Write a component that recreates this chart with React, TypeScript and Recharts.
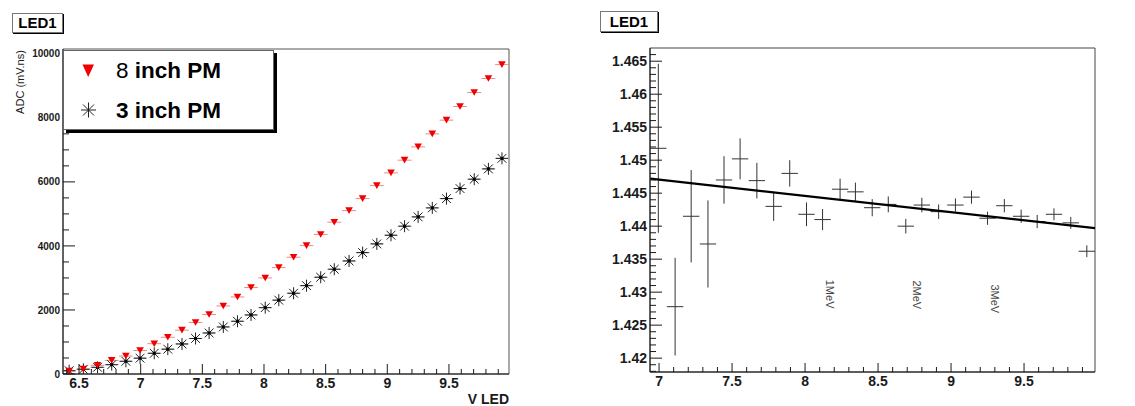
import React from "react";
import {
  ErrorBar,
  ReferenceArea,
  Scatter,
  ScatterChart,
  XAxis,
  YAxis,
} from "recharts";

// ---- left pad: ADC vs LED voltage ----
const vLed = [
  6.42, 6.535, 6.65, 6.765, 6.88, 6.995, 7.11, 7.22, 7.335, 7.445, 7.555,
  7.67, 7.785, 7.895, 8.01, 8.12, 8.24, 8.345, 8.46, 8.57, 8.69, 8.8, 8.915,
  9.03, 9.14, 9.25, 9.365, 9.48, 9.59, 9.705, 9.82, 9.93,
];
const adc8inch = [
  95, 155, 270, 425, 562, 734, 947, 1147, 1369, 1609, 1856, 2125, 2406, 2700,
  3000, 3322, 3647, 4009, 4359, 4741, 5103, 5478, 5884, 6281, 6678, 7094,
  7500, 7928, 8353, 8791, 9228, 9663,
];
const adc3inch = [
  103, 147, 209, 291, 397, 494, 647, 775, 938, 1109, 1281, 1469, 1647, 1844,
  2072, 2306, 2522, 2759, 3022, 3272, 3531, 3791, 4063, 4334, 4616, 4906,
  5188, 5478, 5791, 6084, 6406, 6734,
];
const vLedHalfBin = 0.056;
const adcTicks = [0, 2000, 4000, 6000, 8000, 10000];
const vLedTicks = [6.5, 7, 7.5, 8, 8.5, 9, 9.5];

// ---- right pad: ratio 8 inch / 3 inch ----
const ratioX = [
  6.995, 7.11, 7.22, 7.335, 7.445, 7.555, 7.67, 7.785, 7.895, 8.01, 8.12,
  8.24, 8.345, 8.46, 8.57, 8.69, 8.8, 8.915, 9.03, 9.14, 9.25, 9.365, 9.48,
  9.59, 9.705, 9.82, 9.93,
];
const ratioY = [
  1.4518, 1.4278, 1.4415, 1.4373, 1.447, 1.4502, 1.4469, 1.443, 1.448,
  1.4418, 1.441, 1.4456, 1.4452, 1.4428, 1.4433, 1.44, 1.4432, 1.4422,
  1.4432, 1.4444, 1.4412, 1.4431, 1.4415, 1.4407, 1.4418, 1.4405, 1.4362,
];
const ratioErr = [
  0.0128, 0.0074, 0.007, 0.0066, 0.0036, 0.0031, 0.0027, 0.0022, 0.002,
  0.0018, 0.0016, 0.0016, 0.0014, 0.0013, 0.0012, 0.0011, 0.0011, 0.0011,
  0.001, 0.001, 0.001, 0.001, 0.001, 0.001, 0.0009, 0.0009, 0.0009,
];
const fitX = [6.94, 9.986];
const fitY = [1.4472, 1.4397];
const meVLabels = ["1MeV", "2MeV", "3MeV"];
const meVX = [8.17, 8.765, 9.3];
const meVY = [1.4297, 1.4296, 1.429];
const ratioTicks = [1.42, 1.425, 1.43, 1.435, 1.44, 1.445, 1.45, 1.455, 1.46, 1.465];
const ratioXTicks = [7, 7.5, 8, 8.5, 9, 9.5];

const FONT = '"Liberation Sans", Arial, Helvetica, sans-serif';
const INK = "#1a1a1a";

const steps = (from: number, to: number, step: number) => {
  const out: number[] = [];
  for (let v = from; v <= to + step / 1000; v += step) out.push(Number(v.toFixed(4)));
  return out;
};

const fmt = (v: number) => String(Number(v.toFixed(3)));
const isMajor = (v: number, majors: number[]) => majors.some((m) => Math.abs(m - v) < 1e-6);

function yTick(majors: number[], majorLen: number, minorLen: number, fontSize: number) {
  return (props: any) => {
    const { x, y, payload } = props;
    const major = isMajor(payload.value, majors);
    return (
      <g>
        <line x1={x} x2={x + (major ? majorLen : minorLen)} y1={y} y2={y} stroke={INK} />
        {major && (
          <text x={x - 3} y={y} dy="0.36em" textAnchor="end" fontSize={fontSize} fontWeight="bold" fontFamily={FONT} fill={INK}>
            {fmt(payload.value)}
          </text>
        )}
      </g>
    );
  };
}

function xTick(majors: number[], majorLen: number, minorLen: number, fontSize: number) {
  return (props: any) => {
    const { x, y, payload } = props;
    const major = isMajor(payload.value, majors);
    return (
      <g>
        <line x1={x} x2={x} y1={y} y2={y - (major ? majorLen : minorLen)} stroke={INK} />
        {major && (
          <text x={x} y={y + 14} textAnchor="middle" fontSize={fontSize} fontWeight="bold" fontFamily={FONT} fill={INK}>
            {fmt(payload.value)}
          </text>
        )}
      </g>
    );
  };
}

const TriangleDown = (props: any) => {
  const { cx, cy } = props;
  if (cx == null || cy == null) return <g />;
  return <polygon points={`${cx - 3.8},${cy - 3.3} ${cx + 3.8},${cy - 3.3} ${cx},${cy + 3.3}`} fill="#f00000" />;
};

const Star = (props: any) => {
  const { cx, cy } = props;
  if (cx == null || cy == null) return <g />;
  const r = 6;
  const d = 4.4;
  return (
    <g stroke="#222" strokeWidth={1}>
      <line x1={cx - r} x2={cx + r} y1={cy} y2={cy} />
      <line x1={cx} x2={cx} y1={cy - r} y2={cy + r} />
      <line x1={cx - d} x2={cx + d} y1={cy - d} y2={cy + d} />
      <line x1={cx - d} x2={cx + d} y1={cy + d} y2={cy - d} />
      <rect x={cx - 1.5} y={cy - 1.5} width={3} height={3} fill="#000" stroke="none" />
    </g>
  );
};

const NoMark = () => <g />;

const MeVText = (props: any) => {
  const { cx, cy, payload } = props;
  if (cx == null || cy == null) return <g />;
  return (
    <text x={cx} y={cy} dy="0.35em" textAnchor="middle" transform={`rotate(90 ${cx} ${cy})`} fontSize={11} fontFamily={FONT} fill="#444">
      {payload.label}
    </text>
  );
};

function TitleBox({ left, top, width, height }: { left: number; top: number; width: number; height: number }) {
  return (
    <div
      style={{
        position: "absolute",
        left,
        top,
        width,
        height,
        boxSizing: "border-box",
        border: "1px solid #777",
        boxShadow: "1px 1px 0 #000",
        background: "#fff",
        fontFamily: FONT,
        fontWeight: "bold",
        fontSize: 15,
        lineHeight: `${height - 2}px`,
        textAlign: "center",
        color: "#000",
      }}
    >
      LED1
    </div>
  );
}

export default function App() {
  const rows8 = vLed.map((x, i) => ({ x, y: adc8inch[i], ex: vLedHalfBin }));
  const rows3 = vLed.map((x, i) => ({ x, y: adc3inch[i], ex: vLedHalfBin }));
  const ratioRows = ratioX.map((x, i) => ({ x, y: ratioY[i], ex: vLedHalfBin, ey: ratioErr[i] }));
  const fitRows = fitX.map((x, i) => ({ x, y: fitY[i] }));
  const meVRows = meVLabels.map((label, i) => ({ x: meVX[i], y: meVY[i], label }));

  const leftX: [number, number] = [6.37, 9.987];
  const leftY: [number, number] = [0, 10150];
  const rightX: [number, number] = [6.938, 9.986];
  const rightY: [number, number] = [1.4179, 1.467];

  return (
    <div style={{ position: "absolute", left: 0, top: 0, width: 1135, height: 406, background: "#fff", fontFamily: FONT }}>
      {/* left pad */}
      <div style={{ position: "absolute", left: 0, top: 0 }}>
        <ScatterChart width={520} height={406} margin={{ top: 49, right: 11, bottom: 0, left: 0 }}>
          <XAxis
            type="number"
            dataKey="x"
            domain={leftX}
            allowDataOverflow
            ticks={steps(6.4, 9.9, 0.1)}
            interval={0}
            height={32}
            tickSize={0}
            tickMargin={0}
            tickLine={false}
            axisLine={{ stroke: INK }}
            tick={xTick(vLedTicks, 10, 5, 14)}
          />
          <YAxis
            type="number"
            dataKey="y"
            domain={leftY}
            allowDataOverflow
            ticks={steps(0, 10000, 500)}
            interval={0}
            width={63}
            tickSize={0}
            tickMargin={0}
            tickLine={false}
            axisLine={{ stroke: INK }}
            tick={yTick(adcTicks, 12, 6, 10)}
          />
          <ReferenceArea x1={leftX[0]} x2={leftX[1]} y1={leftY[0]} y2={leftY[1]} fill="none" stroke="#555" />
          <Scatter data={rows3} shape={Star} isAnimationActive={false}>
            <ErrorBar dataKey="ex" direction="x" width={0} stroke="#9a9a9a" strokeWidth={1} isAnimationActive={false} />
          </Scatter>
          <Scatter data={rows8} shape={TriangleDown} isAnimationActive={false}>
            <ErrorBar dataKey="ex" direction="x" width={0} stroke="#ec8a8a" strokeWidth={1} isAnimationActive={false} />
          </Scatter>
        </ScatterChart>
      </div>

      <svg width={40} height={140} style={{ position: "absolute", left: 0, top: 0 }}>
        <text x={23.5} y={82} textAnchor="middle" transform="rotate(-90 23.5 82)" fontSize={11} fontFamily={FONT} fill={INK}>
          ADC (mV.ns)
        </text>
      </svg>
      <svg width={120} height={30} style={{ position: "absolute", left: 400, top: 380 }}>
        <text x={109} y={24} textAnchor="end" fontSize={14} fontWeight="bold" fontFamily={FONT} fill={INK}>
          V LED
        </text>
      </svg>

      {/* legend */}
      <div
        style={{
          position: "absolute",
          left: 63,
          top: 50,
          width: 211,
          height: 80,
          boxSizing: "border-box",
          border: "1px solid #666",
          boxShadow: "3px 3px 0 #000",
          background: "#fff",
        }}
      >
        <svg width={211} height={80} style={{ position: "absolute", left: -1, top: -1 }}>
          <polygon points="19.5,14.5 31,14.5 25.2,27" fill="#f00000" />
          <text x={53} y={27.5} fontSize={22.5} fontFamily={FONT} fill="#000">
            8<tspan fontWeight="bold"> inch PM</tspan>
          </text>
          <g stroke="#222" strokeWidth={1}>
            <line x1={18} x2={33} y1={60} y2={60} />
            <line x1={25.5} x2={25.5} y1={52.5} y2={67.5} />
            <line x1={20} x2={31} y1={54.5} y2={65.5} />
            <line x1={20} x2={31} y1={65.5} y2={54.5} />
          </g>
          <text x={53} y={68} fontSize={22.5} fontWeight="bold" fontFamily={FONT} fill="#000">
            3 inch PM
          </text>
        </svg>
      </div>

      <TitleBox left={12} top={13} width={51} height={20} />

      {/* right pad */}
      <div style={{ position: "absolute", left: 590, top: 0 }}>
        <ScatterChart width={510} height={406} margin={{ top: 48, right: 5, bottom: 0, left: 0 }}>
          <XAxis
            type="number"
            dataKey="x"
            domain={rightX}
            allowDataOverflow
            ticks={steps(7, 9.9, 0.1)}
            interval={0}
            height={34}
            tickSize={0}
            tickMargin={0}
            tickLine={false}
            axisLine={{ stroke: INK }}
            tick={xTick(ratioXTicks, 9, 5, 14)}
          />
          <YAxis
            type="number"
            dataKey="y"
            domain={rightY}
            allowDataOverflow
            ticks={steps(1.418, 1.466, 0.001)}
            interval={0}
            width={60}
            tickSize={0}
            tickMargin={0}
            tickLine={false}
            axisLine={{ stroke: INK }}
            tick={yTick(ratioTicks, 12, 6, 14)}
          />
          <ReferenceArea x1={rightX[0]} x2={rightX[1]} y1={rightY[0]} y2={rightY[1]} fill="none" stroke="#444" />
          <Scatter data={ratioRows} shape={NoMark} isAnimationActive={false}>
            <ErrorBar dataKey="ey" direction="y" width={0} stroke="#333" strokeWidth={1} isAnimationActive={false} />
            <ErrorBar dataKey="ex" direction="x" width={0} stroke="#333" strokeWidth={1} isAnimationActive={false} />
          </Scatter>
          <Scatter data={fitRows} shape={NoMark} line={{ stroke: "#000", strokeWidth: 2.2 }} isAnimationActive={false} />
          <Scatter data={meVRows} shape={MeVText} isAnimationActive={false} />
        </ScatterChart>
      </div>

      <TitleBox left={600} top={11} width={58} height={21} />
    </div>
  );
}
